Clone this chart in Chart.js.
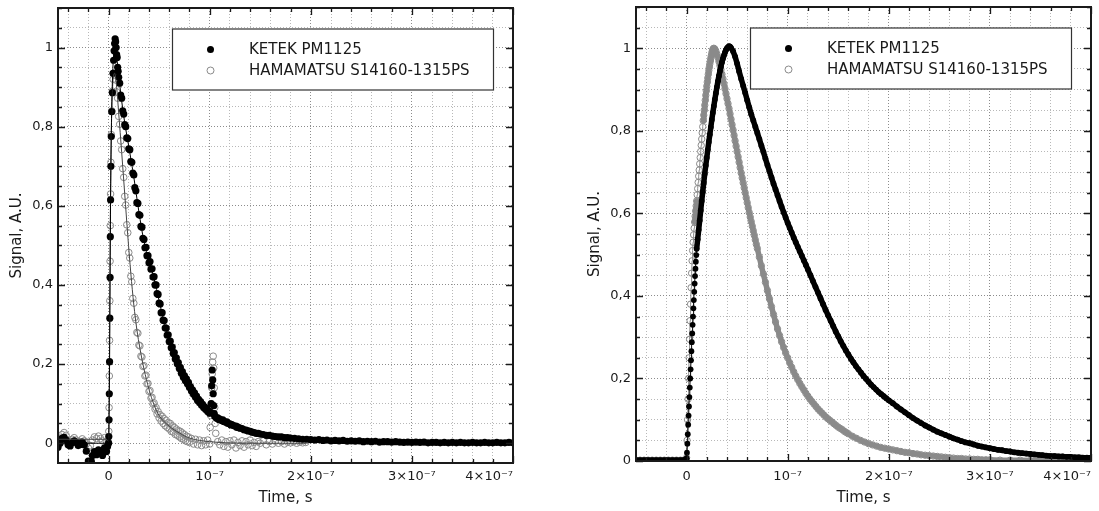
<!DOCTYPE html>
<html>
<head>
<meta charset="utf-8">
<script src="https://cdn.jsdelivr.net/npm/chart.js@4.4.1/dist/chart.umd.min.js"></script>
<style>
  html, body { margin: 0; padding: 0; background: #fff; overflow: hidden; }
  .panel { position: absolute; top: 0; height: 511px; }
  #left { left: 0; width: 550px; }
  #right { left: 550px; width: 549px; }
</style>
</head>
<body>
<div class="panel" id="left"><canvas id="chartA"></canvas></div>
<div class="panel" id="right"><canvas id="chartB"></canvas></div>
<script>
// time in ns, signal normalised

// left panel: raw pulses
const ketekA = [
  [-50,-0.010],[-48,0.000],[-46,0.012],[-44,0.015],[-42,0.008],[-40,-0.004],[-38,-0.007],[-36,0.001],[-34,0.006],[-32,0.002],
  [-30,-0.006],[-28,-0.003],[-26,0.003],[-24,-0.004],[-22,-0.020],[-20,-0.045],[-19,-0.060],[-18,-0.062],[-17,-0.046],[-16,-0.031],
  [-14,-0.021],[-12,-0.029],[-10,-0.017],[-8,-0.023],[-6,-0.031],[-4,-0.012],[-2,-0.021],[-1,-0.008],[0,0.000],
  [0.25,0.017],[0.5,0.059],[0.75,0.125],[1,0.206],[1.25,0.316],[1.5,0.419],[1.75,0.522],[2,0.615],[2.3,0.700],[2.7,0.775],
  [3.2,0.838],[3.8,0.886],[4.4,0.935],[5,0.968],[5.5,0.992],[6,1.010],[6.5,1.022],[7,1.015],[7.5,1.000],[8,0.982],[8.5,0.975],
  [9,0.950],[9.5,0.940],[10,0.925],
  [11,0.910],[12,0.880],[13,0.872],[14,0.840],[15,0.832],[16,0.805],[17,0.800],[18,0.772],[19,0.770],[20,0.744],
  [21,0.742],[22,0.712],[23,0.710],[24,0.683],[25,0.678],[26,0.646],[27,0.638],[28,0.608],[29,0.606],[30,0.578],
  [31,0.576],[32,0.548],[33,0.546],[34,0.518],[35,0.515],[36,0.494],[37,0.495],[38,0.474],[39,0.474],[40,0.456],
  [41,0.459],[42,0.440],[43,0.441],[44,0.420],[45,0.421],[46,0.400],[47,0.400],[48,0.378],[49,0.376],[50,0.354],
  [51,0.352],[52,0.330],[53,0.330],[54,0.311],[55,0.310],[56,0.291],[57,0.291],[58,0.273],[59,0.274],[60,0.257],
  [61,0.258],[62,0.241],[63,0.243],[64,0.227],[65,0.229],[66,0.213],[67,0.216],[68,0.201],[69,0.204],[70,0.189],
  [71,0.192],[72,0.177],[73,0.181],[74,0.167],[75,0.171],[76,0.158],[77,0.163],[78,0.150],[79,0.154],[80,0.141],
  [81,0.143],[82,0.132],[83,0.135],[84,0.124],[85,0.127],[86,0.116],[87,0.119],[88,0.108],[89,0.111],[90,0.102],
  [91,0.105],[92,0.096],[93,0.098],[94,0.090],[95,0.092],[96,0.085],[97,0.087],[98,0.080],[99,0.082],[100,0.076],[101,0.078],
  [101.5,0.100],[102,0.145],[102.5,0.185],[103,0.160],[103.5,0.125],[104,0.095],[104.5,0.075],[105,0.068],
  [106,0.066],[107,0.063],[108,0.064],[109,0.060],[110,0.061],[112,0.057],[113,0.059],[114,0.055],[116,0.053],[117,0.054],
  [118,0.050],[120,0.049],[121,0.046],[122,0.047],[124,0.044],[126,0.043],[127,0.040],[128,0.041],[130,0.038],[132,0.037],
  [134,0.034],[136,0.033],[138,0.031],[140,0.030],[142,0.028],[144,0.027],[146,0.025],[148,0.025],[150,0.023],[153,0.022],
  [156,0.020],[159,0.020],[162,0.018],[165,0.017],[168,0.016],[171,0.016],[174,0.014],[177,0.014],[180,0.013],[184,0.012],
  [188,0.011],[192,0.010],[196,0.010],[200,0.009],
  [204,0.008],[208,0.009],[212,0.007],[216,0.008],[220,0.006],[224,0.007],[228,0.006],[232,0.007],[236,0.005],[240,0.006],
  [244,0.005],[248,0.006],[252,0.004],[256,0.005],[260,0.004],[264,0.005],[268,0.003],[272,0.004],[276,0.004],[280,0.003],
  [284,0.004],[288,0.003],[292,0.002],[296,0.003],[300,0.002],[304,0.003],[308,0.002],[312,0.003],[316,0.001],[320,0.002],
  [324,0.002],[328,0.001],[332,0.002],[336,0.001],[340,0.002],[344,0.001],[348,0.002],[352,0.001],[356,0.001],[360,0.002],
  [364,0.001],[368,0.001],[372,0.002],[376,0.001],[380,0.001],[384,0.002],[388,0.001],[392,0.001],[396,0.002],[400,0.001]
];

const hamaA = [
  [-50,0.005],[-48,0.013],[-46,0.022],[-44,0.027],[-42,0.020],[-40,0.008],[-38,0.004],[-36,0.010],[-34,0.014],[-32,0.008],
  [-30,0.000],[-28,0.004],[-26,0.011],[-24,0.006],[-22,-0.002],[-20,-0.012],[-18,-0.006],[-16,0.008],[-14,0.016],[-12,0.012],
  [-10,0.018],[-8,0.012],[-6,0.006],[-4,0.014],[-2,0.004],[0,0.002],
  [0.25,0.030],[0.5,0.090],[0.75,0.170],[1,0.260],[1.25,0.360],[1.5,0.460],[1.75,0.550],[2,0.630],[2.3,0.710],[2.7,0.780],
  [3.2,0.840],[3.8,0.890],[4.5,0.920],[5.2,0.935],[6,0.930],
  [7,0.918],[8,0.888],[9,0.872],[10,0.826],[11,0.806],[12,0.764],[13,0.742],[14,0.694],[15,0.672],[16,0.624],
  [17,0.602],[18,0.552],[19,0.532],[20,0.482],[21,0.468],[22,0.422],[23,0.408],[24,0.366],[25,0.354],[26,0.318],
  [27,0.312],[28,0.280],[29,0.278],[30,0.248],[31,0.246],[32,0.220],[33,0.218],[34,0.194],[35,0.196],[36,0.170],
  [37,0.172],[38,0.150],[39,0.151],[40,0.131],[41,0.133],[42,0.114],[43,0.116],[44,0.099],[45,0.102],[46,0.086],
  [47,0.090],[48,0.074],[49,0.080],[50,0.064],
  [51,0.072],[52,0.056],[53,0.068],[54,0.050],[55,0.062],[56,0.044],[57,0.058],[58,0.040],[59,0.052],[60,0.036],
  [61,0.050],[62,0.030],[63,0.044],[64,0.028],[65,0.040],[66,0.022],[67,0.036],[68,0.020],[69,0.032],[70,0.016],
  [71,0.030],[72,0.012],[73,0.026],[74,0.010],[75,0.022],[76,0.006],[77,0.018],[78,0.004],[79,0.016],[80,0.002],
  [82,0.012],[84,-0.002],[86,0.010],[88,-0.004],[90,0.008],[92,-0.006],[94,0.006],[96,-0.004],[98,0.008],[100,-0.002],
  [100.5,0.040],[101,0.070],[101.5,0.100],[102,0.140],[102.5,0.175],[103,0.205],[103.5,0.220],[104,0.190],[104.5,0.140],
  [105,0.090],[105.5,0.050],[106,0.025],
  [108,0.004],[110,-0.004],[112,0.008],[114,-0.008],[116,0.004],[118,-0.010],[120,0.006],[122,-0.004],[124,0.008],[126,-0.012],
  [128,0.002],[130,-0.006],[132,0.006],[134,-0.010],[136,0.004],[138,-0.004],[140,0.008],[142,-0.006],[144,0.002],[146,-0.008],
  [148,0.004],[150,0.000],[153,0.006],[156,-0.004],[159,0.004],[162,-0.002],[165,0.005],[168,0.000],[171,0.004],[174,-0.002],
  [177,0.003],[180,0.001],[183,0.004],[186,0.000],[189,0.003],[192,0.001],[195,0.002]
];

// thin fitted curves in the left panel
const ketekFit = [
  [-50,0.000],[-2,0.000],[0,0.000],[0.5,0.060],[1,0.200],[1.5,0.420],[2,0.620],[3,0.830],[4,0.930],[5,0.980],[6,1.000],
  [7,0.995],[9,0.955],[12,0.885],[16,0.810],[20,0.750],[25,0.672],[30,0.585],[35,0.510],[40,0.462],[45,0.416],[50,0.360],
  [55,0.306],[60,0.262],[65,0.225],[70,0.194],[80,0.145],[90,0.107],[100,0.080],[110,0.062],[120,0.050],[140,0.030],
  [160,0.020],[200,0.009],[250,0.005],[300,0.004],[400,0.003]
];
const hamaFit = [
  [-50,0.010],[-2,0.010],[0,0.005],[0.5,0.090],[1,0.260],[1.5,0.460],[2,0.630],[3,0.820],[4,0.900],[5,0.930],[6,0.935],
  [8,0.900],[10,0.835],[13,0.735],[16,0.630],[19,0.525],[22,0.430],[25,0.350],[28,0.287],[31,0.240],[35,0.188],[40,0.136],
  [45,0.097],[50,0.070],[60,0.043],[70,0.026],[80,0.013],[100,0.004],[140,0.000],[196,0.000]
];

// right panel: averaged pulses
const ketekB = [
  [-50,0.002],[-46,0.002],[-42,0.002],[-38,0.002],[-34,0.002],[-30,0.002],[-26,0.002],[-22,0.002],[-18,0.002],[-14,0.002],
  [-10,0.002],[-6,0.002],[-3,0.002],[-1,0.003],[0,0.006],
  [0.4,0.020],[0.8,0.042],[1.2,0.065],[1.6,0.088],[2,0.110],[2.4,0.132],[2.8,0.155],[3.2,0.178],[3.6,0.200],[4,0.222],
  [4.4,0.244],[4.8,0.266],[5.2,0.288],[5.6,0.309],[6,0.330],[6.4,0.350],[6.8,0.370],[7.2,0.390],[7.6,0.410],[8,0.430],
  [8.4,0.448],[8.8,0.466],[9.2,0.483],[9.6,0.499],[10,0.514],
  [11,0.537],[12,0.560],[13,0.583],[14,0.607],[15,0.630],[16,0.652],[17,0.674],[18,0.696],[19,0.716],[20,0.735],
  [21,0.754],[22,0.773],[23,0.791],[24,0.809],[25,0.827],[26,0.844],[27,0.860],[28,0.876],[29,0.891],[30,0.906],
  [31,0.920],[32,0.933],[33,0.945],[34,0.956],[35,0.966],[36,0.975],[37,0.983],[38,0.990],[39,0.996],[40,1.000],
  [41,1.003],[42,1.005],[43,1.004],[44,1.001],
  [46,0.993],[48,0.980],[50,0.963],[52,0.944],[54,0.926],[56,0.909],[58,0.892],[60,0.874],[62,0.857],[64,0.840],
  [66,0.825],[68,0.810],[70,0.795],[72,0.780],[74,0.764],[76,0.749],[78,0.733],[80,0.717],[82,0.702],[84,0.687],
  [86,0.672],[88,0.658],[90,0.644],[92,0.630],[94,0.616],[96,0.603],[98,0.590],[100,0.577],[102,0.565],[104,0.553],
  [106,0.541],[108,0.530],[110,0.519],[112,0.508],[114,0.497],[116,0.486],[118,0.475],[120,0.464],
  [122.5,0.450],[125,0.436],[127.5,0.422],[130,0.408],[132.5,0.394],[135,0.380],[137.5,0.366],[140,0.353],[142.5,0.340],
  [145,0.327],[147.5,0.314],[150,0.302],[152.5,0.290],[155,0.279],[157.5,0.268],[160,0.258],[162.5,0.248],[165,0.239],
  [167.5,0.230],[170,0.222],[172.5,0.214],[175,0.206],[177.5,0.199],[180,0.192],[182.5,0.185],[185,0.179],[187.5,0.173],
  [190,0.167],[192.5,0.162],[195,0.157],[197.5,0.152],[200,0.147],
  [204,0.140],[208,0.132],[212,0.125],[216,0.118],[220,0.111],[224,0.104],[228,0.098],[232,0.092],[236,0.086],[240,0.081],
  [244,0.076],[248,0.071],[252,0.067],[256,0.063],[260,0.059],[264,0.055],[268,0.052],[272,0.048],[276,0.045],[280,0.043],
  [284,0.040],[288,0.037],[292,0.035],[296,0.033],[300,0.031],[304,0.029],[308,0.027],[312,0.026],[316,0.024],[320,0.023],
  [324,0.021],[328,0.020],[332,0.019],[336,0.018],[340,0.017],[344,0.016],[348,0.015],[352,0.014],[356,0.013],[360,0.012],
  [364,0.012],[368,0.011],[372,0.011],[376,0.010],[380,0.010],[384,0.009],[388,0.009],[392,0.008],[396,0.008],[400,0.008]
];

const hamaB = [
  [-50,0.002],[-46,0.002],[-42,0.002],[-38,0.002],[-34,0.002],[-30,0.002],[-26,0.002],[-22,0.002],[-18,0.002],[-14,0.002],
  [-10,0.002],[-6,0.002],[-3,0.002],[-1,0.003],
  [0,0.008],[0.5,0.050],[1,0.100],[1.5,0.150],[2,0.200],[2.5,0.250],[3,0.295],[3.5,0.340],[4,0.380],[4.5,0.420],
  [5,0.455],[5.5,0.485],[6,0.510],[6.5,0.530],[7,0.548],[7.5,0.564],[8,0.579],[8.5,0.593],[9,0.606],[9.5,0.618],
  [10,0.630],[10.5,0.645],[11,0.660],[11.5,0.675],[12,0.690],[12.5,0.705],[13,0.720],[13.5,0.735],[14,0.750],[14.5,0.765],
  [15,0.780],[15.5,0.795],[16,0.810],[16.5,0.825],[17,0.838],[17.5,0.850],[18,0.862],[18.5,0.874],[19,0.886],[19.5,0.897],
  [20,0.908],[20.5,0.918],[21,0.928],[21.5,0.937],[22,0.946],[22.5,0.954],[23,0.962],[23.5,0.969],[24,0.976],[24.5,0.982],
  [25,0.988],[25.5,0.993],[26,0.997],[26.5,0.999],[27,1.000],
  [28,0.998],[29,0.993],[30,0.986],[31,0.978],[32,0.968],[33,0.958],[34,0.948],[35,0.937],[36,0.926],[37,0.914],
  [38,0.902],[39,0.890],[40,0.878],[41,0.866],[42,0.854],[43,0.841],[44,0.828],[45,0.815],[46,0.802],[47,0.789],
  [48,0.776],[49,0.763],[50,0.750],[51,0.737],[52,0.724],[53,0.711],[54,0.698],[55,0.686],[56,0.674],[57,0.662],
  [58,0.650],[59,0.638],[60,0.626],[61,0.614],[62,0.602],[63,0.591],[64,0.580],[65,0.569],[66,0.558],[67,0.547],
  [68,0.536],[69,0.525],[70,0.515],
  [72,0.494],[74,0.473],[76,0.453],[78,0.433],[80,0.413],[82,0.393],[84,0.374],[86,0.355],[88,0.337],[90,0.320],
  [92,0.304],[94,0.289],[96,0.275],[98,0.262],[100,0.250],[102,0.238],[104,0.227],[106,0.216],[108,0.206],[110,0.197],
  [112,0.188],[114,0.180],[116,0.172],[118,0.164],[120,0.157],[122,0.150],[124,0.144],[126,0.138],[128,0.132],[130,0.126],
  [132,0.121],[134,0.116],[136,0.111],[138,0.106],[140,0.102],[142,0.098],[144,0.094],[146,0.090],[148,0.086],[150,0.082],
  [152,0.079],[154,0.076],[156,0.072],[158,0.069],[160,0.066],
  [164,0.060],[168,0.055],[172,0.050],[176,0.046],[180,0.042],[184,0.039],[188,0.036],[192,0.033],[196,0.031],[200,0.029],
  [204,0.027],[208,0.025],[212,0.023],[216,0.021],[220,0.020],[224,0.018],[228,0.017],[232,0.015],[236,0.014],[240,0.013],
  [244,0.012],[248,0.011],[252,0.010],[256,0.009],[260,0.008],[264,0.007],[268,0.006],[272,0.006],[276,0.005],[280,0.005],
  [284,0.004],[288,0.004],[292,0.003],[296,0.003],[300,0.003],
  [310,0.002],[320,0.002],[330,0.002],[340,0.001],[350,0.001],[360,0.001],[370,0.001],[380,0.001],[390,0.001],[400,0.001]
];

const seriesNames = ['KETEK PM1125', 'HAMAMATSU S14160-1315PS'];

// axes
const xTicks = [-40,-20,0,20,40,60,80,100,120,140,160,180,200,220,240,260,280,300,320,340,360,380,400];
const xLabelAt = [0, 100, 200, 300, 400];
const xLabels = ['0', '10⁻⁷', '2×10⁻⁷', '3×10⁻⁷', '4×10⁻⁷'];
const yTicks = [0,0.05,0.1,0.15,0.2,0.25,0.3,0.35,0.4,0.45,0.5,0.55,0.6,0.65,0.7,0.75,0.8,0.85,0.9,0.95,1,1.05,1.1];
const yLabelAt = [0, 0.2, 0.4, 0.6, 0.8, 1];
const yLabels = ['0', '0,2', '0,4', '0,6', '0,8', '1'];

const INK = '#1a1a1a';
const GRAY = '#8a8a8a';
Chart.defaults.font.family = '"DejaVu Sans", Verdana, sans-serif';
Chart.defaults.color = INK;

const near = (a, b) => Math.abs(a - b) < 1e-9;
const isMajor = (v, list) => list.some(m => near(m, v));
const labelFor = (v, at, txt) => {
  const i = at.findIndex(a => near(a, v));
  return i < 0 ? '' : txt[i];
};
const pts = arr => arr.map(p => ({ x: p[0], y: p[1] }));

// inward tick marks on all four sides + frame
const frameTicks = {
  id: 'frameTicks',
  afterDatasetsDraw(chart) {
    const { ctx, chartArea: a, scales: { x, y } } = chart;
    ctx.save();
    ctx.strokeStyle = INK;
    ctx.lineWidth = 1.3;
    ctx.beginPath();
    x.ticks.forEach(t => {
      const px = Math.round(x.getPixelForValue(t.value)) + 0.5;
      const len = isMajor(t.value, xLabelAt) ? 7 : 4;
      ctx.moveTo(px, a.bottom); ctx.lineTo(px, a.bottom - len);
      ctx.moveTo(px, a.top); ctx.lineTo(px, a.top + len);
    });
    y.ticks.forEach(t => {
      const py = Math.round(y.getPixelForValue(t.value)) + 0.5;
      const len = isMajor(t.value, yLabelAt) ? 7 : 4;
      ctx.moveTo(a.left, py); ctx.lineTo(a.left + len, py);
      ctx.moveTo(a.right, py); ctx.lineTo(a.right - len, py);
    });
    ctx.stroke();
    ctx.lineWidth = 2;
    ctx.strokeRect(a.left, a.top, a.width, a.height);
    ctx.restore();
  }
};

// boxed legend inside the plot, drawn under the data
const boxLegend = {
  id: 'boxLegend',
  beforeDatasetsDraw(chart) {
    const { ctx, chartArea: a } = chart;
    const items = chart.data.datasets.filter(d => d.label);
    const bx = a.left + 114.5, by = a.top + 21;
    const bw = a.width - 114.5 - 19.5, bh = 61;
    ctx.save();
    ctx.fillStyle = '#fff';
    ctx.fillRect(bx, by, bw, bh);
    ctx.strokeStyle = '#333';
    ctx.lineWidth = 1.2;
    ctx.strokeRect(bx, by, bw, bh);
    ctx.font = '15px "DejaVu Sans"';
    ctx.textBaseline = 'middle';
    items.forEach((d, i) => {
      const cy = by + 20.5 + i * 21;
      ctx.beginPath();
      ctx.arc(bx + 38, cy, 3.5, 0, Math.PI * 2);
      if (d.pointBorderWidth > 0) {
        ctx.strokeStyle = d.pointBorderColor;
        ctx.lineWidth = 1;
        ctx.stroke();
      } else {
        ctx.fillStyle = d.pointBackgroundColor;
        ctx.fill();
      }
      ctx.fillStyle = INK;
      ctx.fillText(d.label, bx + 76.5, cy + 1);
    });
    ctx.restore();
  }
};

function makeOptions(yMin, pad, xHeight, xLabelPad) {
  return {
    responsive: true,
    maintainAspectRatio: false,
    animation: false,
    events: [],
    layout: { padding: pad },
    plugins: { legend: { display: false }, tooltip: { enabled: false } },
    scales: {
      x: {
        type: 'linear', min: -50, max: 400,
        afterBuildTicks: s => { s.ticks = xTicks.map(v => ({ value: v })); },
        // fixed height, and no extra room for the last label hanging past the edge
        afterFit: s => { s.height = xHeight; s.paddingLeft = 0; s.paddingRight = 0; },
        ticks: {
          autoSkip: false, maxRotation: 0, padding: xLabelPad, align: 'inner',
          font: { size: 13 }, color: INK,
          callback: v => labelFor(v, xLabelAt, xLabels)
        },
        grid: {
          drawTicks: false, lineWidth: 1,
          color: c => isMajor(c.tick.value, xLabelAt) ? '#8c8c8c' : '#b8b8b8'
        },
        border: { display: false, dash: [1, 2] },
        title: { display: true, text: 'Time, s', font: { size: 15 }, color: INK, padding: { top: 0, bottom: 4 } }
      },
      y: {
        min: yMin, max: 1.1,
        afterBuildTicks: s => { s.ticks = yTicks.map(v => ({ value: v })); },
        afterFit: s => { s.width = 58; s.paddingTop = 0; s.paddingBottom = 0; },
        ticks: {
          autoSkip: false, padding: 5,
          font: { size: 13 }, color: INK,
          callback: v => labelFor(v, yLabelAt, yLabels)
        },
        grid: {
          drawTicks: false, lineWidth: 1,
          color: c => isMajor(c.tick.value, yLabelAt) ? '#8c8c8c' : '#b8b8b8'
        },
        border: { display: false, dash: [1, 2] },
        title: { display: true, text: 'Signal, A.U.', font: { size: 15 }, color: INK, padding: { top: 8, bottom: 0 } }
      }
    }
  };
}

// left: raw waveforms with fits
new Chart(document.getElementById('chartA'), {
  type: 'scatter',
  data: {
    datasets: [
      { data: pts(ketekFit), showLine: true, borderColor: '#000', borderWidth: 1, pointRadius: 0, cubicInterpolationMode: 'monotone' },
      { data: pts(hamaFit), showLine: true, borderColor: '#444', borderWidth: 1, pointRadius: 0, cubicInterpolationMode: 'monotone' },
      { label: seriesNames[0], data: pts(ketekA), pointRadius: 3.6, pointBorderWidth: 0,
        pointBackgroundColor: '#000', pointBorderColor: '#000' },
      { label: seriesNames[1], data: pts(hamaA), pointRadius: 3.3, pointBorderWidth: 1,
        pointBackgroundColor: 'rgba(0,0,0,0)', pointBorderColor: GRAY }
    ]
  },
  options: makeOptions(-0.05, { left: 0, right: 37, top: 8, bottom: 0 }, 48, 6),
  plugins: [boxLegend, frameTicks]
});

// right: averaged waveforms, dense points merge into a band
const bandWidth = w => c => Math.abs(c.p1.y - c.p0.y) > 12 * Math.abs(c.p1.x - c.p0.x) ? 1 : w;

new Chart(document.getElementById('chartB'), {
  type: 'scatter',
  data: {
    datasets: [
      { label: seriesNames[0], data: pts(ketekB), showLine: true, borderColor: '#000',
        borderJoinStyle: 'round', borderCapStyle: 'round', segment: { borderWidth: bandWidth(5.5) },
        pointRadius: 2.9, pointBorderWidth: 0, pointBackgroundColor: '#000', pointBorderColor: '#000' },
      { label: seriesNames[1], data: pts(hamaB), showLine: true, borderColor: GRAY,
        borderJoinStyle: 'round', borderCapStyle: 'round', segment: { borderWidth: bandWidth(5.5) },
        pointRadius: 3.2, pointBorderWidth: 1, pointBackgroundColor: 'rgba(0,0,0,0)', pointBorderColor: GRAY }
    ]
  },
  options: makeOptions(0, { left: 28, right: 8, top: 7, bottom: 0 }, 50, 8),
  plugins: [boxLegend, frameTicks]
});
</script>
</body>
</html>
